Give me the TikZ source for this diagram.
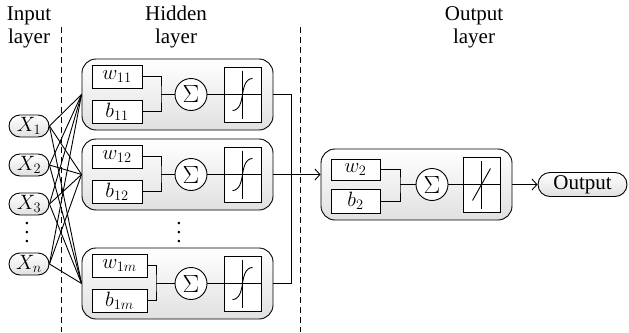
\documentclass[tikz,border=0pt]{standalone}
\usepackage{amsmath}
\usepackage[no-math]{fontspec}
\setmainfont{Liberation Serif}
\usepackage{tikz}
\usetikzlibrary{arrows.meta,shapes.misc}
\newcommand{\vdotsw}{\vbox{\baselineskip9pt\lineskiplimit0pt\hbox{.}\hbox{.}\hbox{.}}}
\tikzset{
  lay/.style ={rectangle, rounded corners=14pt, draw, top color=white, bottom color=black!12,
               minimum width=191pt, minimum height=71pt, inner sep=0pt},
  inp/.style ={rounded rectangle, draw, top color=white, bottom color=black!12,
               minimum width=42pt, minimum height=22pt, inner sep=1pt},
  prm/.style ={rectangle, draw, fill=white, minimum width=50pt, minimum height=23pt, inner sep=1pt},
  sumc/.style={circle, draw, fill=white, minimum size=32pt, inner sep=0pt, font=\fontsize{24.88}{25}\selectfont},
  sig/.style ={rectangle, draw, fill=white, minimum width=37pt, minimum height=55pt,
               path picture={
                 \draw ([shift={(-20,0)}]path picture bounding box.center) -- ([shift={(20,0)}]path picture bounding box.center);
                 \draw ([shift={(0,-24)}]path picture bounding box.center) -- ([shift={(0,24)}]path picture bounding box.center);
                 \draw ([shift={(-10,16)}]path picture bounding box.center)
                   .. controls ([shift={(-3,16)}]path picture bounding box.center) and ([shift={(-1,7)}]path picture bounding box.center)
                   .. (path picture bounding box.center)
                   .. controls ([shift={(1,-7)}]path picture bounding box.center) and ([shift={(3,-16)}]path picture bounding box.center)
                   .. ([shift={(10,-16)}]path picture bounding box.center);}},
  lin/.style ={rectangle, draw, fill=white, minimum width=37pt, minimum height=55pt,
               path picture={
                 \draw ([shift={(-20,0)}]path picture bounding box.center) -- ([shift={(20,0)}]path picture bounding box.center);
                 \draw ([shift={(0,-24)}]path picture bounding box.center) -- ([shift={(0,24)}]path picture bounding box.center);
                 \draw ([shift={(-9,16)}]path picture bounding box.center) -- ([shift={(9,-16)}]path picture bounding box.center);}},
  flow/.style={-{Straight Barb[length=5pt,width=11pt]}},
  divider/.style={dash pattern=on 6pt off 4pt},
}

\begin{document}
\begin{tikzpicture}[x=1pt, y=-1pt, line width=0.9pt, font=\fontsize{21}{23}\selectfont]
\useasboundingbox (0,0) rectangle (629,332);
% --- layer titles ---
\node[align=center] (tin)  at (29,27)  {Input\\layer};
\node[align=center] (thid) at (176,27) {Hidden\\layer};
\node[align=center] (tout) at (474,27) {Output\\layer};
% --- dividers ---
\coordinate (d1a) at (61,27);  \coordinate (d1b) at (61,332);
\coordinate (d2a) at (300,27); \coordinate (d2b) at (300,332);
\draw[divider] (d1a) -- (d1b);
\draw[divider] (d2a) -- (d2b);
% --- inputs ---
\node[inp] (x1) at (29,126) {$X_1$};
\node[inp] (x2) at (29,165) {$X_2$};
\node[inp] (x3) at (29,204) {$X_3$};
\node[inp] (xn) at (29,264) {$X_n$};
\node[inner sep=0pt] (xd) at (27,233) {\vdotsw};
% --- hidden neurons ---
\foreach \n/\y/\s/\pw/\jx in {1/94.5/11/50/161, 2/174.5/12/50/161, 3/283.5/1m/55/156} {
  \node[lay] (h\n) at (177.5,\y) {};
  \node[prm, minimum width=\pw pt] (w\n) at (92+\pw/2,\y-18) {$w_{\s}$};
  \node[prm, minimum width=\pw pt] (b\n) at (92+\pw/2,\y+17) {$b_{\s}$};
  \node[sumc] (s\n) at (191,\y) {$\Sigma$};
  \node[sig] (a\n) at (242.5,\y) {};
  \coordinate (j\n) at (\jx,\y);
  \draw (w\n.east) -| (j\n) |- (b\n.east);
  \draw (j\n) -- (s\n) -- (a\n);
}
\node[inner sep=0pt] (hd) at (179,233) {\vdotsw};
% inputs -> hidden
\foreach \i in {x1,x2,x3,xn} {\foreach \h in {h1,h2,h3} {\draw (\i.east) -- (\h.west);}}
% --- output neuron ---
\node[lay] (o) at (416.5,184.5) {};
\node[prm, minimum width=49pt, minimum height=21pt] (w0) at (355.5,169.5) {$w_2$};
\node[prm, minimum width=49pt, minimum height=24pt] (b0) at (355.5,201) {$b_2$};
\node[sumc] (s0) at (432,184.5) {$\Sigma$};
\node[lin] (a0) at (481.5,184.5) {};
\coordinate (j0) at (400,184.5);
\draw (w0.east) -| (j0) |- (b0.east);
\draw (j0) -- (s0) -- (a0);
\node[rounded rectangle, draw, top color=white, bottom color=black!12, minimum width=91pt,
      minimum height=24pt, inner sep=1pt] (out) at (582.5,184.5) {Output};
% hidden -> output
\coordinate (bus) at (291,174.5);
\draw (h1.east) -| (bus);
\draw (h3.east) -| (bus);
\draw (h2.east) -- (bus);
\draw[flow] (bus) -- (bus -| o.west);
\draw[flow] (o.east) -- (out.west);
\end{tikzpicture}
\end{document}
